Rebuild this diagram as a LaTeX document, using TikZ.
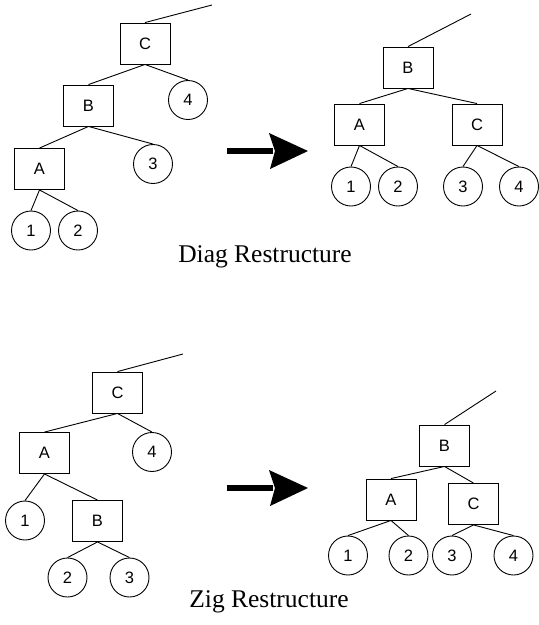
\documentclass[tikz,border=0pt]{standalone}
\usepackage{fontspec}
\setmainfont{Liberation Serif}
\newfontfamily\labelfont{Liberation Sans}
\begin{document}
\begin{tikzpicture}[x=1pt,y=-1pt,
  every path/.style={line width=0.9pt},
  keybox/.style={draw, rectangle, minimum width=50pt, minimum height=41pt, inner sep=0pt,
    font=\labelfont\fontsize{16.5}{16.5}\selectfont},
  leaf/.style={draw, circle, minimum size=39pt, inner sep=0pt,
    font=\labelfont\fontsize{16.5}{16.5}\selectfont},
  caption/.style={font=\fontsize{25.5}{28}\selectfont, inner sep=0pt, anchor=base},
  bigarrow/.style={fill=black, draw=none}
]
\useasboundingbox (0,0) rectangle (539,625);

% ---- Diag restructure: before ----
\node[keybox] (dC) at (145,43.5) {C};
\node[keybox] (dB) at (88.5,105.5) {B};
\node[keybox] (dA) at (39.5,169) {A};
\node[leaf] (d4) at (188,100) {4};
\node[leaf] (d3) at (153,164) {3};
\node[leaf] (d1) at (31,230.5) {1};
\node[leaf] (d2) at (78,230.5) {2};
\coordinate (dtop) at (212,5);
\draw (dC.north) -- (dtop);
\draw (dC.south) -- (dB.north);
\draw (dC.south) -- (d4.north);
\draw (dB.south) -- (dA.north);
\draw (dB.south) -- (d3.north);
\draw (dA.south) -- (d1.north);
\draw (dA.south) -- (d2.north);

% ---- Diag restructure: after ----
\node[keybox] (eB) at (408,67.5) {B};
\node[keybox] (eA) at (359.5,124.5) {A};
\node[keybox] (eC) at (477,124.5) {C};
\node[leaf] (e1) at (351,186.5) {1};
\node[leaf] (e2) at (398,186.5) {2};
\node[leaf] (e3) at (463,186.5) {3};
\node[leaf] (e4) at (519,186.5) {4};
\coordinate (etop) at (471,14);
\draw (eB.north) -- (etop);
\draw (eB.south) -- (eA.north);
\draw (eB.south) -- (eC.north);
\draw (eA.south) -- (e1.north);
\draw (eA.south) -- (e2.north);
\draw (eC.south) -- (e3.north);
\draw (eC.south) -- (e4.north);

% transformation arrow
\fill (227,148) rectangle (273,154);
\fill[bigarrow] (308,151) -- (269,133) -- (275,151) -- (270,169) -- cycle;

\node[caption] (diagcap) at (265,262) {Diag Restructure};

% ---- Zig restructure: before ----
\node[keybox] (zC) at (117.5,392.5) {C};
\node[keybox] (zA) at (44.5,453) {A};
\node[keybox] (zB) at (97.5,521) {B};
\node[leaf] (z4) at (152,452) {4};
\node[leaf] (z1) at (25,520.5) {1};
\node[leaf] (z2) at (67.5,577.5) {2};
\node[leaf] (z3) at (129.5,577.5) {3};
\coordinate (ztop) at (183,354);
\draw (zC.north) -- (ztop);
\draw (zC.south) -- (zA.north);
\draw (zC.south) -- (z4.north);
\draw (zA.south) -- (z1.north);
\draw (zA.south) -- (zB.north);
\draw (zB.south) -- (z2.north);
\draw (zB.south) -- (z3.north);

% ---- Zig restructure: after ----
\node[keybox] (yB) at (444.5,445.5) {B};
\node[keybox] (yA) at (391,499.5) {A};
\node[keybox] (yC) at (473.5,504) {C};
\node[leaf] (y1) at (348,555.5) {1};
\node[leaf] (y2) at (408.5,555.5) {2};
\node[leaf] (y3) at (452,555.5) {3};
\node[leaf] (y4) at (513.5,555.5) {4};
\coordinate (ytop) at (496,391);
\draw (yB.north) -- (ytop);
\draw (yB.south) -- (yA.north);
\draw (yB.south) -- (yC.north);
\draw (yA.south) -- (y1.north);
\draw (yA.south) -- (y2.north);
\draw (yC.south) -- (y3.north);
\draw (yC.south) -- (y4.north);

% transformation arrow
\fill (227,485) rectangle (273,491);
\fill[bigarrow] (308,488) -- (269,470) -- (275,488) -- (270,506) -- cycle;

\node[caption] (zigcap) at (269,607) {Zig Restructure};
\end{tikzpicture}
\end{document}
